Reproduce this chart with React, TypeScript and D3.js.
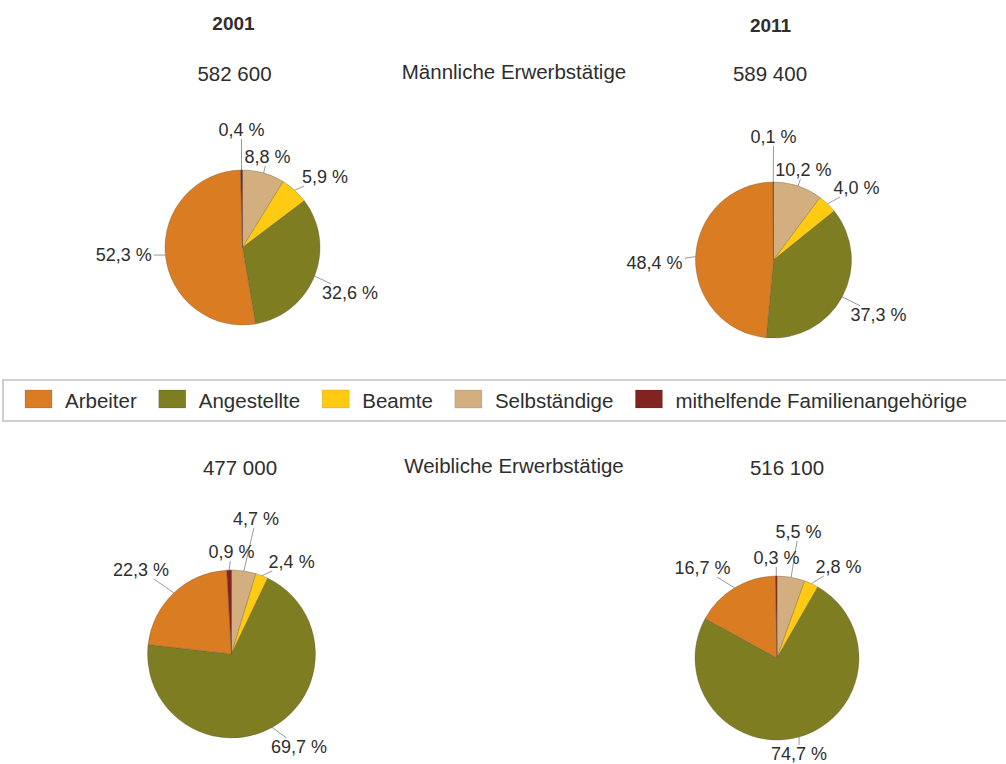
import React, { useEffect, useRef } from "react";
import * as d3 from "d3";

// ---------- data ----------
const categories = [
  "Arbeiter",
  "Angestellte",
  "Beamte",
  "Selbständige",
  "mithelfende Familienangehörige",
];
const colors = ["#DA7C22", "#7E7D21", "#FFCB12", "#D3AF80", "#822320"];

const male2001 = [52.3, 32.6, 5.9, 8.8, 0.4];
const male2011 = [48.4, 37.3, 4.0, 10.2, 0.1];
const female2001 = [22.3, 69.7, 2.4, 4.7, 0.9];
const female2011 = [16.7, 74.7, 2.8, 5.5, 0.3];

const years = ["2001", "2011"];
const maleTotals = ["582 600", "589 400"];
const femaleTotals = ["477 000", "516 100"];
const groupTitles = ["Männliche Erwerbstätige", "Weibliche Erwerbstätige"];

// clockwise order of slices from 12 o'clock (category indices)
const sliceOrder = [3, 2, 1, 0, 4];

// ---------- layout ----------
const W = 1006;
const H = 764;
const FONT = "'Liberation Sans', Arial, Helvetica, sans-serif";
const TEXT = "#2e2e2e";

type LabelLayout = { dist: number; turn: number };
type PieSpec = {
  values: number[];
  cx: number;
  cy: number;
  r: number;
  labels: LabelLayout[]; // per category index
};

const pies: PieSpec[] = [
  {
    values: male2001,
    cx: 242.5,
    cy: 247.5,
    r: 77.5,
    labels: [
      { dist: 119, turn: 1.9 },
      { dist: 116.7, turn: 1.3 },
      { dist: 108.5, turn: 7.2 },
      { dist: 93.9, turn: -0.4 },
      { dist: 117.5, turn: 0.2 },
    ],
  },
  {
    values: male2011,
    cx: 773.5,
    cy: 260,
    r: 78,
    labels: [
      { dist: 119, turn: -3.9 },
      { dist: 118.5, turn: -0.7 },
      { dist: 109.9, turn: 5.2 },
      { dist: 94.9, turn: 0 },
      { dist: 123, turn: 0.2 },
    ],
  },
  {
    values: female2001,
    cx: 231.5,
    cy: 654,
    r: 84,
    labels: [
      { dist: 123.5, turn: -3.7 },
      { dist: 115, turn: -7 },
      { dist: 110, turn: 11.9 },
      { dist: 137, turn: 1.8 },
      { dist: 102, turn: 1.6 },
    ],
  },
  {
    values: female2011,
    cx: 777,
    cy: 658,
    r: 82,
    labels: [
      { dist: 116.8, turn: -8.5 },
      { dist: 98.5, turn: 2.8 },
      { dist: 109.8, turn: 9.2 },
      { dist: 127.8, turn: -0.2 },
      { dist: 100, turn: 0.2 },
    ],
  },
];

const fmt = (v: number) => v.toFixed(1).replace(".", ",") + " %";

export default function App() {
  const ref = useRef<SVGSVGElement | null>(null);

  useEffect(() => {
    const svg = d3.select(ref.current);
    svg.selectAll("*").remove();

    svg
      .append("rect")
      .attr("width", W)
      .attr("height", H)
      .attr("fill", "#fff");

    // ---- headers ----
    const head = svg.append("g").attr("font-family", FONT).attr("fill", TEXT);
    const yearX = [233.5, 770.5];
    const yearY = [30, 32];
    years.forEach((y, i) => {
      head
        .append("text")
        .attr("x", yearX[i])
        .attr("y", yearY[i])
        .attr("text-anchor", "middle")
        .attr("font-size", 19)
        .attr("font-weight", "bold")
        .text(y);
    });
    const totX = [
      [234.5, 770],
      [240, 787],
    ];
    const totY = [81, 475];
    [maleTotals, femaleTotals].forEach((tots, g) => {
      tots.forEach((t, i) => {
        head
          .append("text")
          .attr("x", totX[g][i])
          .attr("y", totY[g])
          .attr("text-anchor", "middle")
          .attr("font-size", 20.5)
          .text(t);
      });
      head
        .append("text")
        .attr("x", 514)
        .attr("y", totY[g] - 2)
        .attr("text-anchor", "middle")
        .attr("font-size", 20.5)
        .text(groupTitles[g]);
    });

    // ---- pies ----
    pies.forEach((p) => {
      const ordered = sliceOrder.map((k) => ({ k, v: p.values[k] }));
      const arcsData = d3
        .pie<{ k: number; v: number }>()
        .sort(null)
        .startAngle(0)
        .endAngle(2 * Math.PI)
        .value((d) => d.v)(ordered);
      const arc = d3
        .arc<d3.PieArcDatum<{ k: number; v: number }>>()
        .innerRadius(0)
        .outerRadius(p.r);
      const g = svg
        .append("g")
        .attr("transform", `translate(${p.cx},${p.cy})`);
      const lines = g.append("g");
      g.selectAll("path.slice")
        .data(arcsData)
        .join("path")
        .attr("class", "slice")
        .attr("d", arc as any)
        .attr("fill", (d) => colors[d.data.k])
        .attr("stroke", "#5a5040")
        .attr("stroke-opacity", 0.45)
        .attr("stroke-width", 0.7);

      // labels
      arcsData.forEach((d) => {
        const k = d.data.k;
        const lay = p.labels[k];
        const mid = (d.startAngle + d.endAngle) / 2;
        const la = mid + (lay.turn * Math.PI) / 180;
        const lx = Math.sin(la) * lay.dist;
        const ly = -Math.cos(la) * lay.dist;
        const t = g
          .append("text")
          .attr("x", lx)
          .attr("y", ly)
          .attr("text-anchor", "middle")
          .attr("dominant-baseline", "central")
          .attr("font-family", FONT)
          .attr("font-size", 18)
          .attr("fill", TEXT)
          .text(fmt(d.data.v));
        const node = t.node() as SVGTextElement;
        const w = node.getComputedTextLength();
        const hw = w / 2 + 2;
        const hh = 9;
        const ex = Math.sin(mid) * p.r;
        const ey = -Math.cos(mid) * p.r;
        // clip segment E->L where it enters the label box
        const dx = lx - ex;
        const dy = ly - ey;
        const tx = Math.abs(dx) > 1e-6 ? 1 - hw / Math.abs(dx) : -Infinity;
        const ty = Math.abs(dy) > 1e-6 ? 1 - hh / Math.abs(dy) : -Infinity;
        const tEnd = Math.max(tx, ty);
        if (tEnd > 0 && tEnd <= 1) {
          lines
            .append("line")
            .attr("x1", ex)
            .attr("y1", ey)
            .attr("x2", ex + dx * tEnd)
            .attr("y2", ey + dy * tEnd)
            .attr("stroke", "#9a9a9a")
            .attr("stroke-width", 1);
        }
      });
    });

    // ---- legend ----
    const lg = svg.append("g");
    lg.append("rect")
      .attr("x", 3)
      .attr("y", 380)
      .attr("width", W + 10)
      .attr("height", 41)
      .attr("fill", "#fff")
      .attr("stroke", "#cfcfcf")
      .attr("stroke-width", 2);
    let x = 25;
    categories.forEach((c, i) => {
      lg.append("rect")
        .attr("x", x)
        .attr("y", 390)
        .attr("width", 27)
        .attr("height", 18)
        .attr("fill", colors[i])
        .attr("stroke", "rgba(0,0,0,0.15)")
        .attr("stroke-width", 0.8);
      const t = lg
        .append("text")
        .attr("x", x + 40)
        .attr("y", 400)
        .attr("dominant-baseline", "central")
        .attr("font-family", FONT)
        .attr("font-size", 20.5)
        .attr("fill", TEXT)
        .text(c);
      const w = (t.node() as SVGTextElement).getComputedTextLength();
      x = x + 40 + w + 22;
    });
  }, []);

  return (
    <svg
      ref={ref}
      width={W}
      height={H}
      style={{ position: "absolute", left: 0, top: 0, display: "block" }}
    />
  );
}
